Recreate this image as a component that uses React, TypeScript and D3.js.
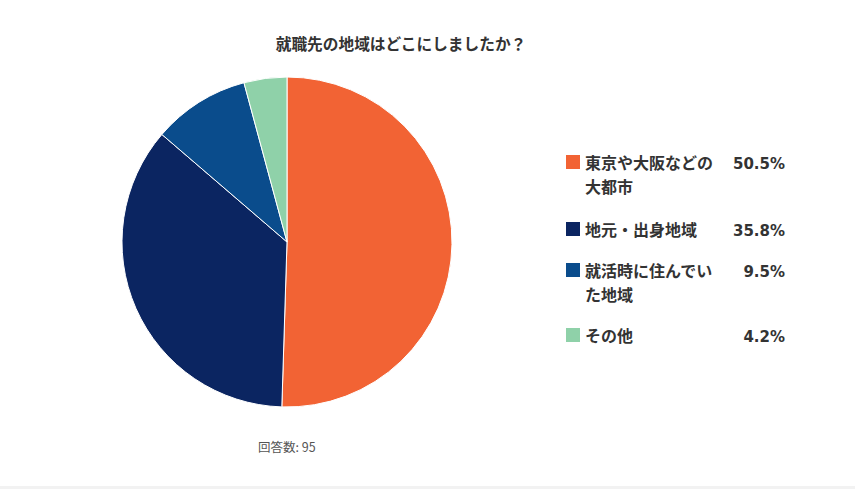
import React from "react";
import * as d3 from "d3";

const categories = ["東京や大阪などの大都市", "地元・出身地域", "就活時に住んでいた地域", "その他"];
const labelLines = [["東京や大阪などの", "大都市"], ["地元・出身地域"], ["就活時に住んでい", "た地域"], ["その他"]];
const values = [50.5, 35.8, 9.5, 4.2];
const colors = ["#F26334", "#0B2561", "#0A4C8C", "#8FD1A9"];
const title = "就職先の地域はどこにしましたか？";
const note = "回答数: 95";

export default function App() {
  const W = 855, H = 489;
  const cx = 287, cy = 242, r = 165;
  const pie = d3.pie<number>().sort(null).value((d) => d);
  const arcs = pie(values);
  const arc = d3.arc<d3.PieArcDatum<number>>().innerRadius(0).outerRadius(r);
  const rowY = [164, 231, 272, 337];
  const font = "'Noto Sans CJK JP', 'Noto Sans', sans-serif";
  const numFont = "'DejaVu Sans', sans-serif";
  return (
    <svg width={W} height={H} style={{ position: "absolute", left: 0, top: 0, background: "#fff" }}>
      <text x={401} y={50} textAnchor="middle" fontFamily={font} fontWeight="bold" fontSize={15.7} fill="#333">{title}</text>
      <g transform={`translate(${cx},${cy})`}>
        {arcs.map((a, i) => (
          <path key={i} d={arc(a) || ""} fill={colors[i]} stroke="#fff" strokeWidth={1} />
        ))}
      </g>
      {categories.map((c, i) => (
        <g key={c}>
          <rect x={566} y={rowY[i] - 9} width={14} height={14} fill={colors[i]} />
          {labelLines[i].map((l, j) => (
            <text key={j} x={585} y={rowY[i] + 5 + j * 24} fontFamily={font} fontWeight="bold" fontSize={16} fill="#333">{l}</text>
          ))}
          <text x={785} y={rowY[i] + 5} textAnchor="end" fontFamily={numFont} fontWeight="bold" fontSize={15} fill="#333">{values[i].toFixed(1)}%</text>
        </g>
      ))}
      <text x={258} y={452} fontFamily={font} fontSize={12.5} fill="#555">{note}</text>
      <rect x={0} y={486} width={W} height={3} fill="#f2f2f2" />
    </svg>
  );
}
